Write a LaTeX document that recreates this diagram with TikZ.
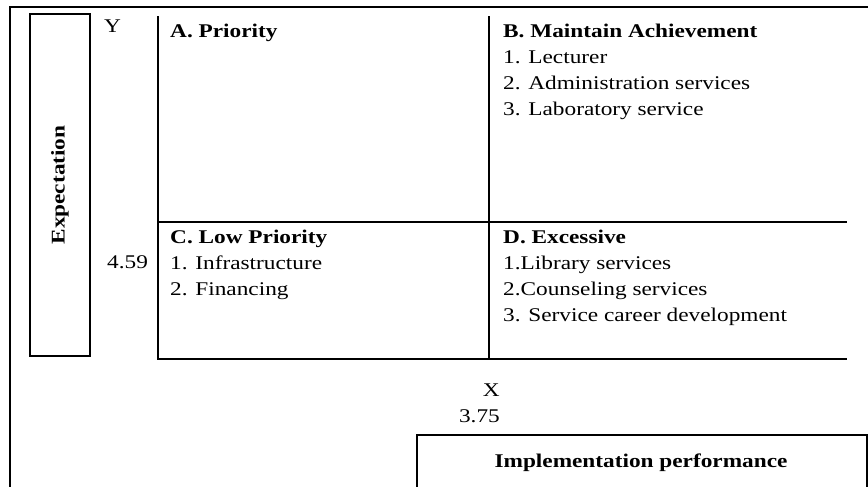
\documentclass[tikz,border=0pt]{standalone}
\usepackage{fontspec}
\setmainfont{Liberation Serif}[FakeStretch=1.2]
\begin{document}
\begin{tikzpicture}[x=1pt,y=-1pt,
  rule/.style={line width=2pt, line cap=rect},
  txt/.style={inner sep=0pt, anchor=base west, align=left,
    font=\fontsize{19.4}{26}\selectfont},
  head/.style={txt, font=\fontsize{19.4}{26}\selectfont\bfseries},
  labelbox/.style={draw, line width=2pt, inner sep=0pt,
    font=\fontsize{19.4}{26}\selectfont\bfseries},
]
\useasboundingbox (0,0) rectangle (868,487);
\fill[white] (0,0) rectangle (868,487);

% outer frame (top and left sides)
\coordinate (frame-bl) at (10,487);
\coordinate (frame-tr) at (868,7);
\draw[rule] (frame-bl) |- (frame-tr);

% vertical axis box
\node (yaxis) [labelbox, rotate=90, minimum width=342pt, minimum height=60pt]
  at (60,185) {Expectation};

% quadrant grid
\coordinate (q-tl) at (158,17);
\coordinate (q-tm) at (488.5,17);
\coordinate (q-ml) at (158,222);
\coordinate (q-mr) at (846,222);
\coordinate (q-bl) at (158,358.5);
\coordinate (q-bm) at (488.5,358.5);
\coordinate (q-br) at (846,358.5);
\draw[rule] (q-tl) -- (q-bl) -- (q-br);
\draw[rule] (q-tm) -- (q-bm);
\draw[rule] (q-ml) -- (q-mr);

% axis labels and cut values
\node (ylab) [txt] at (104,33) {Y};
\node (ycut) [txt] at (107,268) {4.59};
\node (xlab) [txt, anchor=base east] at (500,396) {X};
\node (xcut) [txt, anchor=base east] at (500,422) {3.75};

% quadrant contents (multi-line nodes sit on the baseline of their last line)
\node (qa) [head] at (170,37.7) {A. Priority};
\node (qb) [txt] at (503,115.7) {\textbf{B. Maintain Achievement}\\1. Lecturer\\2. Administration services\\3. Laboratory service};
\node (qc) [txt] at (170,295) {\textbf{C. Low Priority}\\1. Infrastructure\\2. Financing};
\node (qd) [txt] at (503,321) {\textbf{D. Excessive}\\1.Library services\\2.Counseling services\\3. Service career development};

% horizontal axis box
\node (xaxis) [draw, line width=2pt, anchor=north west, minimum width=450pt,
  minimum height=80pt, inner sep=0pt] at (416,434) {};
\node (xaxis-text) [head, anchor=base] at (641,467) {Implementation performance};
\end{tikzpicture}
\end{document}
